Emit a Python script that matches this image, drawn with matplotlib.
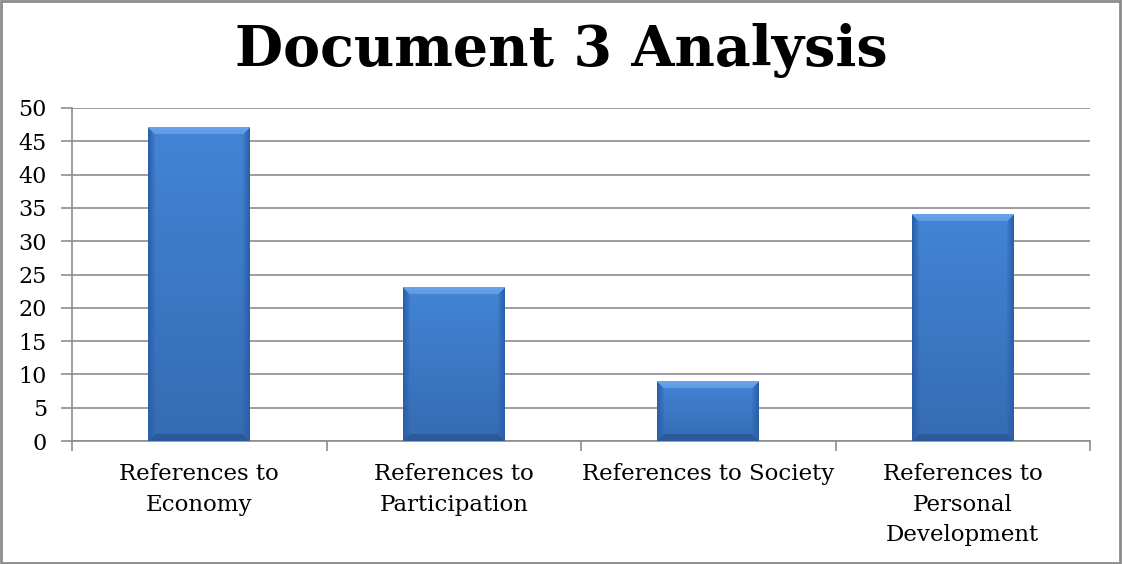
import numpy as np
import matplotlib
matplotlib.use("Agg")
import matplotlib.pyplot as plt
from matplotlib.patches import Rectangle

categories = ["References to\nEconomy", "References to\nParticipation",
              "References to Society", "References to\nPersonal\nDevelopment"]
values = [47, 23, 9, 34]
yticks = [0, 5, 10, 15, 20, 25, 30, 35, 40, 45, 50]
title = "Document 3 Analysis"

plt.rcParams["font.family"] = ["DejaVu Serif"]

fig = plt.figure(figsize=(11.23, 5.64), dpi=100)
ax = fig.add_axes([72 / 1123, 1 - 441 / 564, (1090 - 72) / 1123, (441 - 108) / 564])

grid_c = "#8c8c8c"
x = np.arange(len(values))
bars = ax.bar(x, values, width=0.4, color="#3b78c8", zorder=2)

ax.set_xlim(-0.5, len(values) - 0.5)
ax.set_ylim(0, 50)
ax.set_yticks(yticks)
ax.set_yticklabels([str(v) for v in yticks], fontsize=16)
ax.set_xticks(x)
ax.set_xticklabels(categories, fontsize=16.5, linespacing=1.5)
ax.set_xticks(np.arange(-0.5, len(values)), minor=True)
ax.tick_params(axis="x", which="major", length=0, pad=16)
ax.tick_params(axis="x", which="minor", length=7, color=grid_c, width=1.2)
ax.tick_params(axis="y", length=8, color=grid_c, width=1.2, pad=10)
ax.yaxis.grid(True, color=grid_c, linewidth=1.2, zorder=0)
ax.set_axisbelow(True)
for s in ["top", "right"]:
    ax.spines[s].set_visible(False)
for s in ["left", "bottom"]:
    ax.spines[s].set_color(grid_c)
    ax.spines[s].set_linewidth(1.2)

# Bevelled gradient fill for each bar
fig.canvas.draw()
to_px = ax.transData
main_top = np.array([0.26, 0.52, 0.84])
main_bot = np.array([0.21, 0.42, 0.70])
top_face = np.array([0.42, 0.64, 0.92])
side_face = np.array([0.17, 0.37, 0.66])
bot_face = np.array([0.17, 0.35, 0.60])
bev = 7
for b in bars:
    x0, w, h = b.get_x(), b.get_width(), b.get_height()
    p0 = to_px.transform((x0, 0))
    p1 = to_px.transform((x0 + w, h))
    nw = int(round(p1[0] - p0[0]))
    nh = int(round(p1[1] - p0[1]))
    img = np.zeros((nh, nw, 3))
    for r in range(nh):
        t = r / max(nh - 1, 1)
        base = main_top * (1 - t) + main_bot * t
        for c in range(nw):
            dl, dr = c, nw - 1 - c
            dt, db = r, nh - 1 - r
            ds = min(dl, dr)
            if dt < bev and dt <= ds:
                k = dt / bev
                col = top_face * (1 - 0.3 * k) + base * 0.3 * k
            elif ds < bev and ds <= db:
                k = ds / bev
                col = side_face * (1 - k) + base * k * 0.9 + side_face * 0.1 * k
            elif db < bev:
                col = bot_face
            else:
                col = base
            img[r, c] = col
    b.set_visible(False)
    ax.imshow(img, extent=(x0, x0 + w, 0, h), aspect="auto", zorder=3,
              interpolation="bilinear")
ax.set_xlim(-0.5, len(values) - 0.5)
ax.set_ylim(0, 50)

fig.text(0.5, 1 - 50 / 564, title, ha="center", va="center",
         fontsize=40, fontweight="bold")

fig.patches.append(Rectangle((0.001, 0.002), 0.996, 0.996, transform=fig.transFigure,
                             fill=False, edgecolor="#8c8c8c", linewidth=2))

fig.savefig("out.png", dpi=100)
